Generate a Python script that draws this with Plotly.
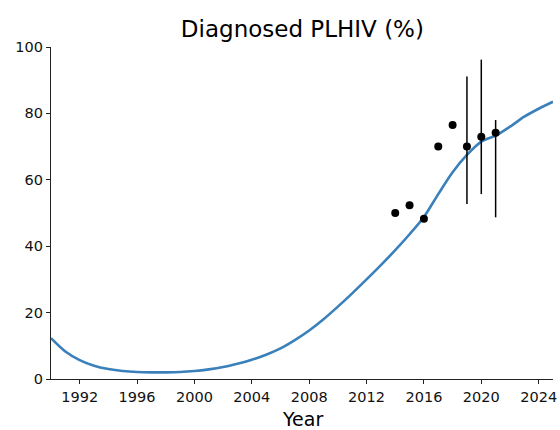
import plotly.graph_objects as go

years = list(range(1990, 2026))
diagnosed_pct = [12.3, 8.3, 5.7, 4.0, 3.0, 2.4, 2.1, 2.0, 2.0, 2.1,
                 2.4, 2.9, 3.6, 4.6, 5.8, 7.3, 9.2, 11.7, 14.6, 18.0,
                 21.8, 25.8, 30.0, 34.3, 38.8, 43.6, 48.8, 55.7, 62.3, 67.5,
                 71.5, 73.3, 76.0, 79.0, 81.4, 83.5]

obs_years = [2014, 2015, 2016, 2017, 2018, 2019, 2020, 2021]
obs_values = [50.0, 52.3, 48.3, 70.0, 76.5, 70.0, 73.0, 74.2]
obs_lower = [None, None, None, None, None, 52.7, 55.7, 48.7]
obs_upper = [None, None, None, None, None, 91.1, 96.2, 78.0]

err_plus = [(u - v) if u is not None else 0 for u, v in zip(obs_upper, obs_values)]
err_minus = [(v - l) if l is not None else 0 for l, v in zip(obs_lower, obs_values)]

x_ticks = list(range(1992, 2025, 4))
y_ticks = [0, 20, 40, 60, 80, 100]

fig = go.Figure()
fig.add_trace(go.Scatter(
    x=years, y=diagnosed_pct, mode="lines",
    line=dict(color="#3a80ba", width=2.6, shape="spline", smoothing=0.8),
    showlegend=False, cliponaxis=True,
))
fig.add_trace(go.Scatter(
    x=obs_years, y=obs_values, mode="markers",
    marker=dict(color="black", size=8),
    error_y=dict(type="data", symmetric=False, array=err_plus, arrayminus=err_minus,
                 color="black", thickness=1.5, width=0),
    showlegend=False,
))

axis_common = dict(
    showgrid=False, zeroline=False, showline=True, linecolor="#222222", linewidth=1.2,
    ticks="outside", ticklen=4, tickwidth=1, tickcolor="#222222", automargin=False,
    tickfont=dict(family="DejaVu Sans", size=14.5, color="#111111"),
)

fig.update_layout(
    width=560, height=430,
    margin=dict(l=51, r=7, t=47, b=51),
    plot_bgcolor="white", paper_bgcolor="white",
    title=dict(text="Diagnosed PLHIV (%)", x=0.54, xanchor="center", y=0.933, yanchor="middle",
               font=dict(family="DejaVu Sans", size=23, color="black")),
    xaxis=dict(range=[1990, 2025], tickvals=x_ticks, ticktext=[str(t) for t in x_ticks],
               **axis_common),
    yaxis=dict(range=[0, 100], tickvals=y_ticks, ticktext=[str(t) for t in y_ticks], **axis_common),
    annotations=[dict(text="Year", xref="paper", yref="paper", x=0.5, y=-0.121,
                      xanchor="center", yanchor="middle", showarrow=False,
                      font=dict(family="DejaVu Sans", size=19, color="black"))],
)

fig.write_html("out.html", config={"displayModeBar": False},
               post_script="document.body.style.margin='0';document.body.style.overflow='hidden';")
